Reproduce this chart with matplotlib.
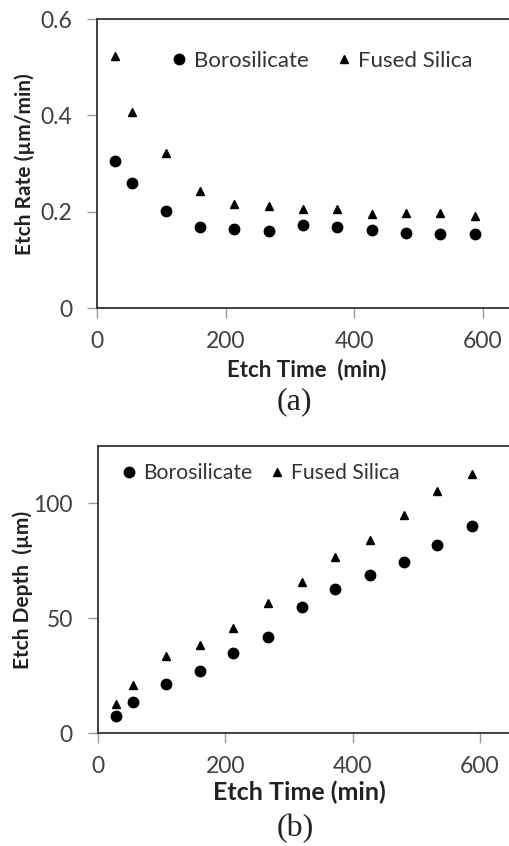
import matplotlib
matplotlib.use("Agg")
import matplotlib.pyplot as plt
from matplotlib.lines import Line2D

plt.rcParams['font.family'] = ['Lato', 'DejaVu Sans']

etch_time = [28, 55, 107, 160, 213, 267, 320, 373, 427, 480, 533, 587]
rate_boro = [0.305, 0.259, 0.202, 0.169, 0.164, 0.160, 0.173, 0.169, 0.162, 0.157, 0.154, 0.154]
rate_fused = [0.523, 0.408, 0.323, 0.243, 0.216, 0.212, 0.205, 0.205, 0.196, 0.198, 0.198, 0.191]
depth_boro = [7.4, 13.6, 21.3, 27.1, 34.8, 42.0, 55.1, 62.9, 68.7, 74.5, 81.7, 90.0]
depth_fused = [12.6, 21.0, 33.6, 38.4, 45.9, 56.8, 65.7, 76.7, 84.1, 94.9, 105.4, 112.6]
x_ticks = [0, 200, 400, 600]
rate_ticks = [0, 0.2, 0.4, 0.6]
rate_ticklabels = ["0", "0.2", "0.4", "0.6"]
depth_ticks = [0, 50, 100]

W, H = 509, 846
fig = plt.figure(figsize=(W / 100, H / 100), dpi=100)

tick_color = '#404040'
spine_color = '#333333'

def style(ax):
    for s in ['left', 'top', 'bottom']:
        ax.spines[s].set_color(spine_color)
        ax.spines[s].set_linewidth(1.3)
    ax.spines['right'].set_visible(False)
    ax.tick_params(axis='both', direction='out', length=7, width=1.0,
                   color='#999999', labelcolor=tick_color, labelsize=16.5)
    ax.tick_params(axis='x', pad=9)
    ax.tick_params(axis='y', pad=11)

# top panel
ax1 = fig.add_axes([97 / W, 1 - 308.3 / H, 1 - 97 / W, 289.3 / H])
ax1.plot(etch_time, rate_boro, 'o', color='black', markersize=7.5, clip_on=False)
ax1.plot(etch_time, rate_fused, '^', color='black', markersize=6, clip_on=False)
ax1.set_xlim(0, 640.4)
ax1.set_ylim(0, 0.6)
ax1.set_xticks(x_ticks)
ax1.set_yticks(rate_ticks)
ax1.set_yticklabels(rate_ticklabels)
style(ax1)
ax1.set_xlabel('Etch Time  (min)', fontsize=16, fontweight='bold', color='#222222', va='center')
ax1.xaxis.set_label_coords((307 - 97) / (W - 97), -(370 - 308.3) / 289.3)
ax1.set_ylabel('Etch Rate (µm/min)', fontsize=15, fontweight='bold', color='#222222', va='center')
ax1.yaxis.set_label_coords(-(97 - 25) / (W - 97), 0.5)

handles = [Line2D([], [], marker='o', ls='', color='black', markersize=7.5),
           Line2D([], [], marker='^', ls='', color='black', markersize=6)]
ax1.legend(handles, ['Borosilicate', 'Fused Silica'], ncol=2, frameon=False,
           fontsize=16, loc='center', bbox_to_anchor=((320.5 - 97) / (W - 97), 1 - (61 - 19) / 289.3),
           handletextpad=0.15, columnspacing=1.08, handlelength=1.0, labelcolor='#333333')

# bottom panel
ax2 = fig.add_axes([97.7 / W, 1 - 733.3 / H, 1 - 97.7 / W, 287.6 / H])
ax2.plot(etch_time, depth_boro, 'o', color='black', markersize=7.5, clip_on=False)
ax2.plot(etch_time, depth_fused, '^', color='black', markersize=6, clip_on=False)
ax2.set_xlim(0, 645.5)
ax2.set_ylim(0, 125)
ax2.set_xticks(x_ticks)
ax2.set_yticks(depth_ticks)
style(ax2)
ax2.set_xlabel('Etch Time (min)', fontsize=18, fontweight='bold', color='#222222', va='center')
ax2.xaxis.set_label_coords((299 - 97.7) / (W - 97.7), -(792 - 733.3) / 287.6)
ax2.set_ylabel('Etch Depth  (µm)', fontsize=15, fontweight='bold', color='#222222', va='center')
ax2.yaxis.set_label_coords(-(97.7 - 23) / (W - 97.7), 0.5)
ax2.legend(handles, ['Borosilicate', 'Fused Silica'], ncol=2, frameon=False,
           fontsize=15.2, loc='center', bbox_to_anchor=((259 - 97.7) / (W - 97.7), 1 - (473 - 445.7) / 287.6),
           handletextpad=0.15, columnspacing=0.68, handlelength=1.0, labelcolor='#333333')

fig.text(294.5 / W, 1 - 402 / H, '(a)', ha='center', va='center', fontsize=23,
         family='Liberation Serif', color='#222222')
fig.text(295 / W, 1 - 829 / H, '(b)', ha='center', va='center', fontsize=23,
         family='Liberation Serif', color='#222222')

fig.savefig('out.png', dpi=100, facecolor='white')
